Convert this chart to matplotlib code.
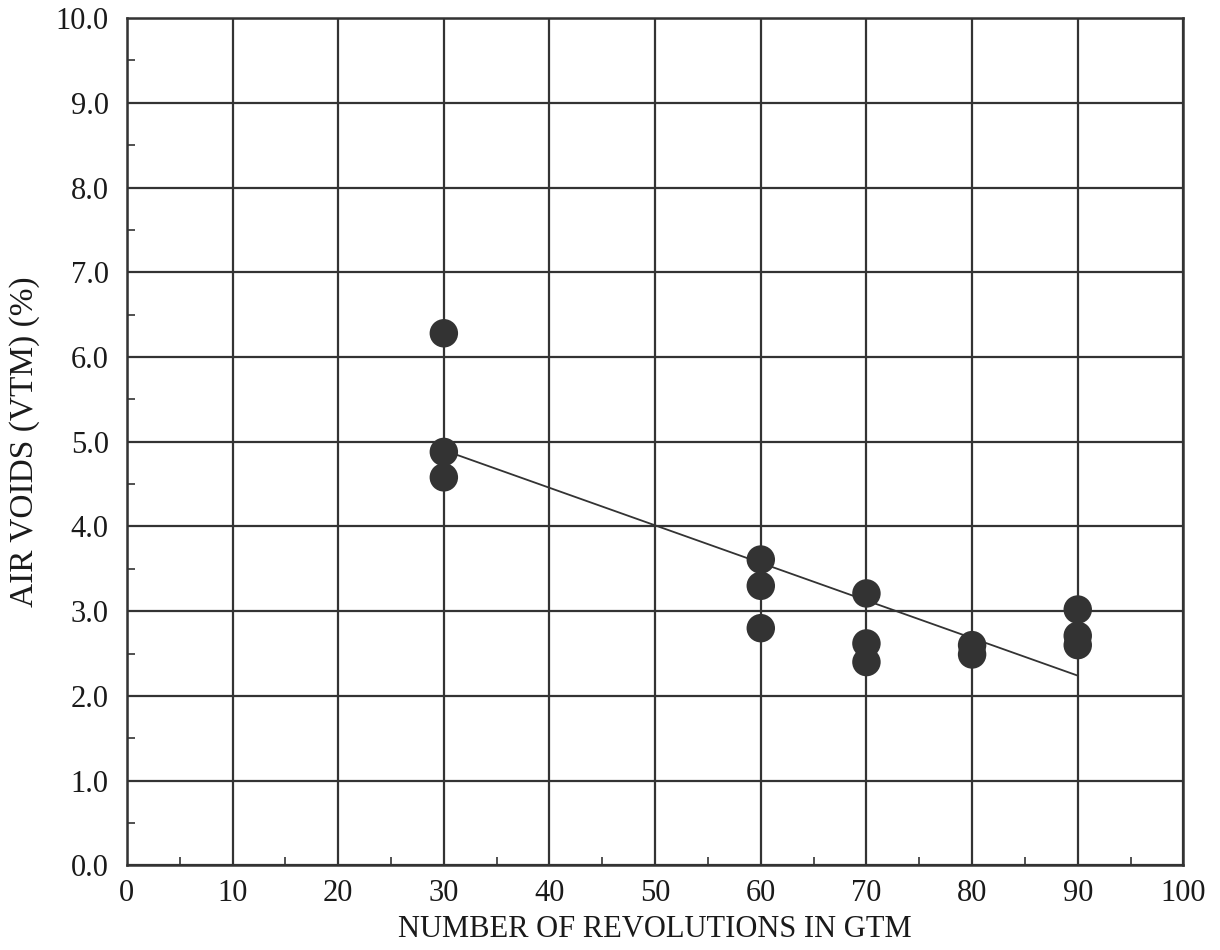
import matplotlib.pyplot as plt
from matplotlib.ticker import MultipleLocator

# data
revs = [30, 30, 30, 60, 60, 60, 70, 70, 70, 80, 80, 90, 90, 90]
air_voids = [6.28, 4.88, 4.58, 3.61, 3.30, 2.80, 3.21, 2.62, 2.40, 2.60, 2.49, 3.02, 2.71, 2.60]
fit_x = [30, 90]
fit_y = [4.90, 2.24]

x_ticks = list(range(0, 101, 10))
y_ticks = [i * 1.0 for i in range(0, 11)]

plt.rcParams['font.family'] = ['Liberation Serif', 'DejaVu Serif']

fig = plt.figure(figsize=(12.2, 9.5), dpi=100)
ax = fig.add_axes([0.104, 0.089, 0.866, 0.892])

ax.plot(fit_x, fit_y, color='#333333', linewidth=1.3, zorder=3)
ax.scatter(revs, air_voids, s=420, color='#333333', edgecolors='none', zorder=4)

ax.set_xlim(0, 100)
ax.set_ylim(0, 10)
ax.set_xticks(x_ticks)
ax.set_yticks(y_ticks)
ax.set_yticklabels([f'{v:.1f}' for v in y_ticks])
ax.xaxis.set_minor_locator(MultipleLocator(5))
ax.yaxis.set_minor_locator(MultipleLocator(0.5))
ax.tick_params(which='major', length=0, labelsize=22, colors='#1a1a1a')
ax.tick_params(which='minor', direction='in', length=6, width=1.2, color='#333333')
ax.tick_params(axis='y', which='major', pad=13)
ax.tick_params(axis='x', which='major', pad=10)

ax.grid(True, which='major', color='#333333', linewidth=1.6)
for s in ax.spines.values():
    s.set_color('#333333')
    s.set_linewidth(1.8)

ax.set_xlabel('NUMBER OF REVOLUTIONS IN GTM', fontsize=22, color='#1a1a1a')
ax.set_ylabel('AIR VOIDS (VTM) (%)', fontsize=24, color='#1a1a1a')
ax.xaxis.set_label_coords(0.5, -0.058)
ax.yaxis.set_label_coords(-0.082, 0.5)

fig.savefig('out.png', dpi=100)
